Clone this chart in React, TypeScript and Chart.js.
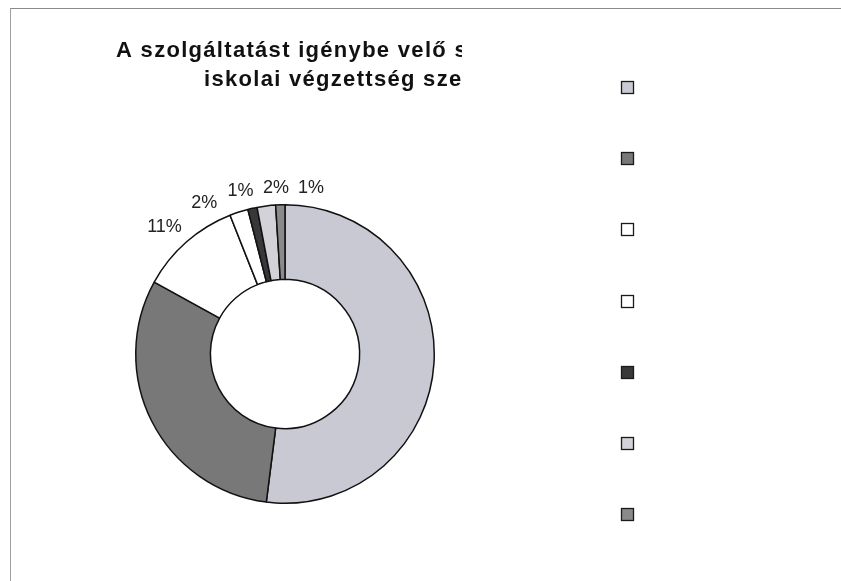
import React, { useEffect, useRef } from 'react';
import { Chart, registerables } from 'chart.js';

Chart.register(...registerables);

// ---- data ----
const categories = ['1', '2', '3', '4', '5', '6', '7'];
const values = [52, 31, 11, 2, 1, 2, 1];
const labelShown = [false, false, true, true, true, true, true];
const sliceColors = ['#c9c9d3', '#787878', '#ffffff', '#ffffff', '#383838', '#d2d2d8', '#8a8a8a'];
const titleLines = ['A szolgáltatást igénybe velő s', 'iskolai végzettség sze'];

const W = 841;
const H = 581;

const labelPlugin = {
  id: 'pctLabels',
  afterDatasetsDraw(chart: any) {
    const ctx = chart.ctx;
    const meta = chart.getDatasetMeta(0);
    ctx.save();
    ctx.font = '18px "Liberation Sans", Arial, sans-serif';
    const h = 17;
    const gap = 9;
    const items: any[] = [];
    meta.data.forEach((arc: any, i: number) => {
      if (!labelShown[i]) return;
      const p = arc.getProps(['x', 'y', 'startAngle', 'endAngle', 'outerRadius'], true);
      const mid = (p.startAngle + p.endAngle) / 2;
      let phi = mid + Math.PI / 2;
      while (phi > Math.PI) phi -= 2 * Math.PI;
      while (phi <= -Math.PI) phi += 2 * Math.PI;
      const text = values[i] + '%';
      items.push({ phi, text, w: ctx.measureText(text).width, cx: p.x, cy: p.y, R: p.outerRadius });
    });
    items.sort((a, b) => a.phi - b.phi);
    for (let it = 0; it < 400; it++) {
      for (let k = 0; k < items.length - 1; k++) {
        const a = items[k];
        const b = items[k + 1];
        const avg = (a.phi + b.phi) / 2;
        const r = a.R + 18;
        const reqX = ((a.w + b.w) / 2 + gap) / (r * Math.abs(Math.cos(avg)) + 1e-6);
        const reqY = (h + gap) / (r * Math.abs(Math.sin(avg)) + 1e-6);
        const req = Math.min(reqX, reqY);
        const sep = b.phi - a.phi;
        if (sep < req) {
          const d = (req - sep) / 2;
          a.phi -= d;
          b.phi += d;
        }
      }
    }
    ctx.fillStyle = '#222';
    ctx.textAlign = 'center';
    ctx.textBaseline = 'middle';
    items.forEach((o) => {
      const ext = (o.w / 2) * Math.abs(Math.sin(o.phi)) + (h / 2) * Math.abs(Math.cos(o.phi));
      const r = o.R + 8 + ext;
      const x = o.cx + r * Math.sin(o.phi);
      const y = o.cy - r * Math.cos(o.phi);
      ctx.fillText(o.text, x, y);
    });
    ctx.restore();
  },
};

const decorPlugin = {
  id: 'decor',
  afterDraw(chart: any) {
    const ctx = chart.ctx;
    // title (clipped as in the original)
    ctx.save();
    ctx.beginPath();
    ctx.rect(0, 0, 462, H);
    ctx.clip();
    ctx.fillStyle = '#111';
    ctx.font = 'bold 22px "Liberation Sans", Arial, sans-serif';
    try { (ctx as any).letterSpacing = '1.3px'; } catch (e) {}
    ctx.textAlign = 'left';
    ctx.textBaseline = 'alphabetic';
    ctx.fillText(titleLines[0], 116, 57);
    ctx.fillText(titleLines[1], 204, 86);
    ctx.restore();

    // legend squares (no text)
    ctx.save();
    const x0 = 621.5;
    const y0 = 88;
    const step = 71.2;
    categories.forEach((_, i) => {
      const y = Math.round(y0 + i * step) - 6.5;
      ctx.fillStyle = sliceColors[i];
      ctx.fillRect(x0, y, 12, 12);
      ctx.strokeStyle = '#1a1a1a';
      ctx.lineWidth = 1.3;
      ctx.strokeRect(x0, y, 12, 12);
    });
    ctx.restore();
  },
};

export default function App() {
  const ref = useRef<HTMLCanvasElement | null>(null);
  useEffect(() => {
    if (!ref.current) return;
    const chart = new Chart(ref.current, {
      type: 'doughnut',
      data: {
        labels: categories,
        datasets: [
          {
            data: values,
            backgroundColor: sliceColors,
            borderColor: '#111',
            borderWidth: 1.5,
          },
        ],
      },
      options: {
        responsive: false,
        animation: false,
        cutout: '50%',
        layout: { padding: { left: 135, right: 406, top: 204, bottom: 77 } },
        plugins: {
          legend: { display: false },
          title: { display: false },
          tooltip: { enabled: false },
        },
      },
      plugins: [labelPlugin, decorPlugin],
    });
    return () => chart.destroy();
  }, []);
  return (
    <div style={{ position: 'absolute', left: 0, top: 0, width: W, height: H, background: '#fff', overflow: 'hidden' }}>
      <canvas ref={ref} width={W} height={H} style={{ position: 'absolute', left: 0, top: 0, width: W, height: H }} />
      <div
        style={{
          position: 'absolute',
          left: 10,
          top: 8,
          width: W,
          height: H,
          borderTop: '1px solid #8a8a8a',
          borderLeft: '1px solid #a0a0a0',
          pointerEvents: 'none',
        }}
      />
    </div>
  );
}
